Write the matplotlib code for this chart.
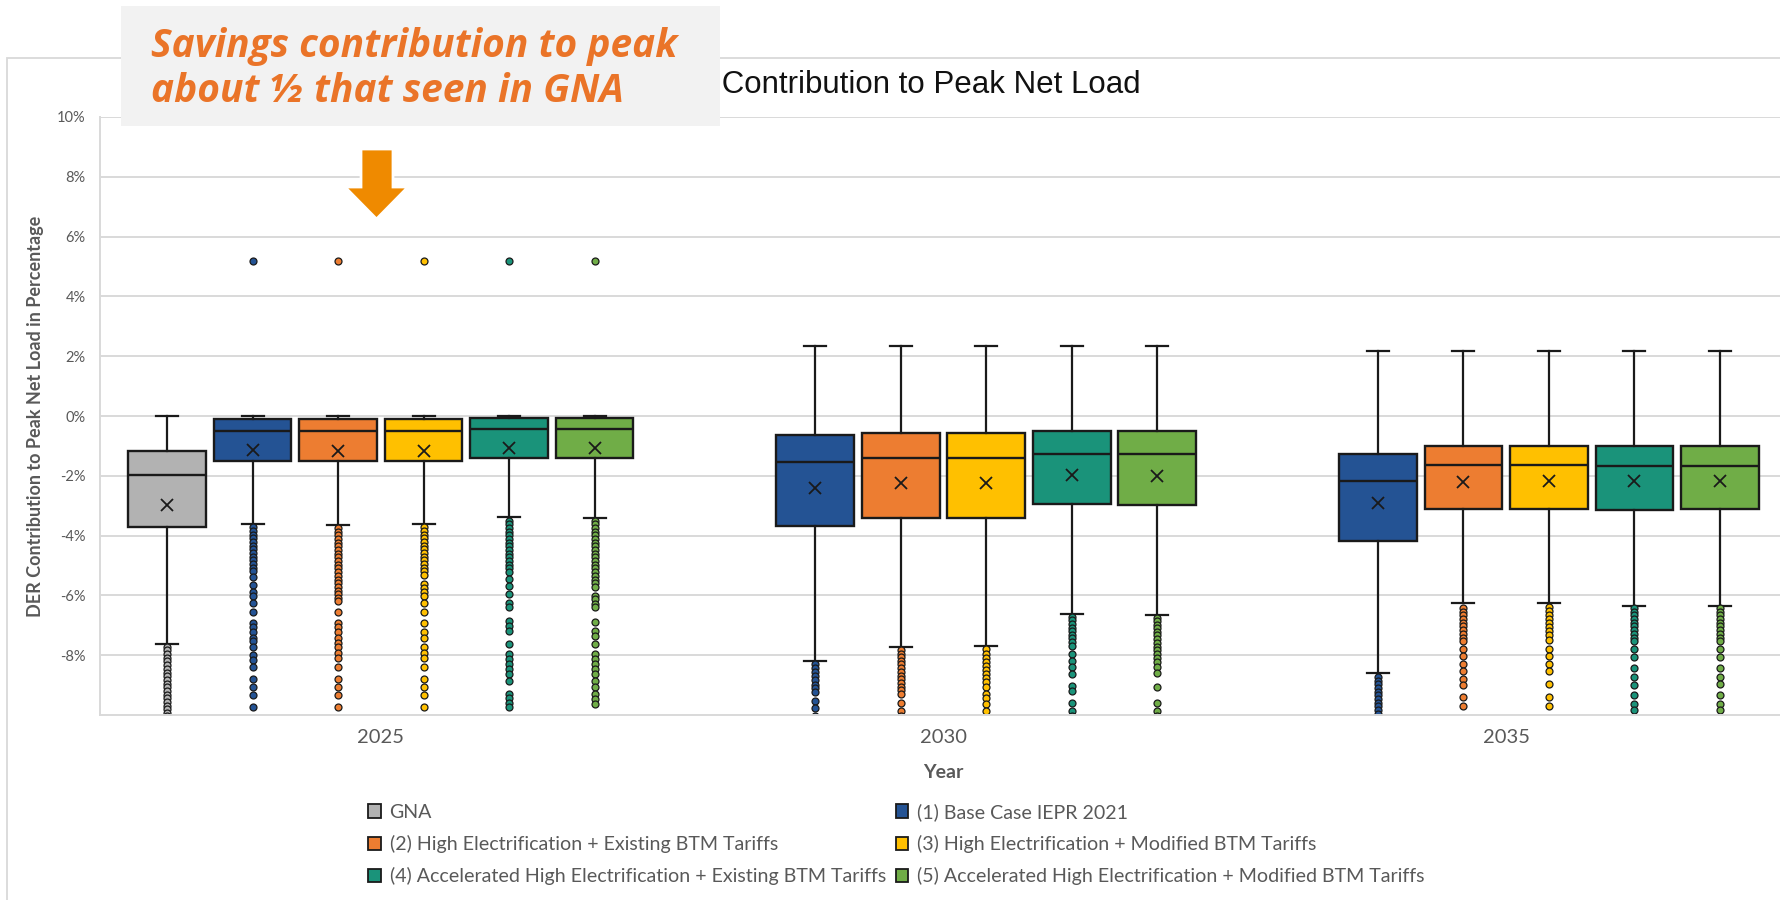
import matplotlib
matplotlib.use("Agg")
import matplotlib.pyplot as plt
import matplotlib.ticker as mticker
from matplotlib.patches import Patch, Rectangle, Polygon

plt.rcParams["font.family"] = ["Lato", "DejaVu Sans"]
plt.rcParams["axes.unicode_minus"] = False

# %% Data (values in percent)

YEARS = ["2025", "2030", "2035"]

SCENARIOS = [
    "GNA",
    "(1) Base Case IEPR 2021",
    "(2) High Electrification + Existing BTM Tariffs",
    "(3) High Electrification + Modified BTM Tariffs",
    "(4) Accelerated High Electrification + Existing BTM Tariffs",
    "(5) Accelerated High Electrification + Modified BTM Tariffs",
]

COLORS = ["#B2B2B2", "#245394", "#ED7D31", "#FFC000", "#1A937A", "#70AD47"]

# one row per scenario, one column per year (None = no data for that year)
WHISHI = [
    [0.0, None, None],
    [0.0, 2.33, 2.16],
    [0.0, 2.33, 2.16],
    [0.0, 2.33, 2.16],
    [0.0, 2.33, 2.16],
    [0.0, 2.33, 2.16],
]
Q3 = [
    [-1.16, None, None],
    [-0.11, -0.63, -1.27],
    [-0.11, -0.58, -0.99],
    [-0.11, -0.58, -0.99],
    [-0.08, -0.51, -0.99],
    [-0.08, -0.51, -0.99],
]
MEDIAN = [
    [-1.97, None, None],
    [-0.50, -1.55, -2.16],
    [-0.51, -1.41, -1.63],
    [-0.51, -1.41, -1.64],
    [-0.45, -1.27, -1.66],
    [-0.45, -1.27, -1.66],
]
MEAN = [
    [-2.98, None, None],
    [-1.13, -2.42, -2.92],
    [-1.16, -2.23, -2.20],
    [-1.16, -2.23, -2.19],
    [-1.06, -1.97, -2.19],
    [-1.06, -1.99, -2.19],
]
Q1 = [
    [-3.72, None, None],
    [-1.49, -3.67, -4.19],
    [-1.51, -3.41, -3.12],
    [-1.49, -3.42, -3.12],
    [-1.41, -2.94, -3.14],
    [-1.41, -2.98, -3.12],
]
WHISLO = [
    [-7.62, None, None],
    [-3.62, -8.21, -8.59],
    [-3.65, -7.73, -6.27],
    [-3.62, -7.70, -6.25],
    [-3.39, -6.62, -6.34],
    [-3.41, -6.65, -6.34],
]

FLIERS_2025 = [
    [-7.72, -7.84, -7.97, -8.09, -8.21, -8.34, -8.46, -8.58, -8.70, -8.83,
     -8.95, -9.07, -9.20, -9.32, -9.44, -9.57, -9.69, -9.81, -9.93, -10.05],
    [5.2, -3.72, -3.85, -3.97, -4.09, -4.21, -4.34, -4.46, -4.58, -4.71,
     -4.83, -4.95, -5.08, -5.20, -5.40, -5.65, -5.90, -6.01, -6.24, -6.54,
     -6.91, -7.07, -7.24, -7.41, -7.52, -7.71, -8.00, -8.17, -8.39, -8.81,
     -9.08, -9.33, -9.72],
    [5.2, -3.75, -3.87, -3.99, -4.12, -4.24, -4.36, -4.48, -4.61, -4.73,
     -4.85, -4.98, -5.10, -5.22, -5.34, -5.47, -5.59, -5.71, -5.84, -5.96,
     -6.08, -6.20, -6.54, -6.91, -7.07, -7.24, -7.41, -7.58, -7.74, -7.91,
     -8.08, -8.39, -8.81, -9.08, -9.33, -9.72],
    [5.2, -3.72, -3.85, -3.97, -4.09, -4.21, -4.34, -4.46, -4.58, -4.71,
     -4.83, -4.95, -5.08, -5.20, -5.32, -5.62, -5.75, -5.89, -6.02, -6.24,
     -6.54, -6.91, -7.24, -7.41, -7.74, -7.91, -8.08, -8.39, -8.81, -9.08,
     -9.33, -9.72],
    [5.2, -3.50, -3.62, -3.75, -3.87, -3.99, -4.12, -4.24, -4.36, -4.48,
     -4.61, -4.73, -4.85, -4.98, -5.10, -5.22, -5.45, -5.68, -5.94, -6.24,
     -6.40, -6.85, -7.02, -7.19, -7.63, -7.97, -8.14, -8.30, -8.47, -8.64,
     -8.86, -9.31, -9.44, -9.59, -9.72],
    [5.2, -3.50, -3.62, -3.75, -3.87, -3.99, -4.12, -4.24, -4.36, -4.48,
     -4.61, -4.73, -4.85, -4.98, -5.10, -5.22, -5.34, -5.47, -5.59, -5.71,
     -6.01, -6.13, -6.29, -6.40, -6.88, -7.19, -7.35, -7.63, -7.97, -8.14,
     -8.30, -8.47, -8.64, -8.86, -9.08, -9.31, -9.48, -9.64],
]

FLIERS_2030 = [
    [],
    [-8.30, -8.44, -8.57, -8.70, -8.84, -8.98, -9.11, -9.24, -9.53, -9.78,
     -10.03],
    [-7.82, -7.95, -8.07, -8.19, -8.31, -8.44, -8.56, -8.68, -8.81, -8.93,
     -9.05, -9.17, -9.31, -9.59, -9.87, -10.03],
    [-7.80, -7.97, -8.10, -8.24, -8.37, -8.50, -8.64, -8.77, -8.90, -9.08,
     -9.29, -9.42, -9.64, -9.87],
    [-6.71, -6.83, -6.95, -7.08, -7.20, -7.32, -7.44, -7.57, -7.69, -7.97,
     -8.19, -8.41, -8.64, -9.03, -9.20, -9.59, -9.87, -10.03],
    [-6.74, -6.85, -6.98, -7.10, -7.22, -7.34, -7.47, -7.59, -7.71, -7.83,
     -7.97, -8.10, -8.24, -8.41, -8.58, -9.05, -9.59, -9.87, -10.03],
]

FLIERS_2035 = [
    [],
    [-8.73, -8.85, -8.97, -9.09, -9.22, -9.34, -9.46, -9.59, -9.71, -9.83,
     -9.98],
    [-6.43, -6.55, -6.67, -6.79, -6.92, -7.04, -7.16, -7.29, -7.41, -7.52,
     -7.79, -8.03, -8.31, -8.54, -8.80, -8.99, -9.40, -9.69],
    [-6.38, -6.52, -6.65, -6.78, -6.92, -7.05, -7.19, -7.32, -7.48, -7.79,
     -8.03, -8.31, -8.54, -8.96, -9.40, -9.69],
    [-6.43, -6.55, -6.67, -6.79, -6.92, -7.04, -7.16, -7.29, -7.41, -7.54,
     -7.79, -8.07, -8.43, -8.74, -8.99, -9.33, -9.62, -9.83],
    [-6.43, -6.55, -6.67, -6.79, -6.92, -7.04, -7.16, -7.29, -7.41, -7.54,
     -7.79, -8.07, -8.43, -8.74, -8.96, -9.33, -9.62, -9.83],
]

FLIERS = [FLIERS_2025, FLIERS_2030, FLIERS_2035]

# %% Style

W, H = 1780, 900
TEXT_GREY = "#595959"
GRID_GREY = "#D9D9D9"
EDGE = "#1A1A1A"

SLOT = 0.152      # spacing between scenarios inside one year
BOX_W = 0.138
CAP_W = 0.039


def fx(px):
    return px / W


def fy(py):
    return 1 - py / H


fig = plt.figure(figsize=(W / 100, H / 100), dpi=100)

# outer chart frame
fig.add_artist(Rectangle((fx(7), -0.2), 2, fy(58) + 0.2, transform=fig.transFigure,
                         facecolor="none", edgecolor=GRID_GREY, linewidth=1.3))

AX_LEFT, AX_W = 99.5, 1688
ax = fig.add_axes([fx(AX_LEFT), fy(715), AX_W / W, (715 - 117) / H])
ax.set_xlim(-0.5, 2.5)
ax.set_ylim(-10, 10)

for j, color in enumerate(COLORS):
    stats, pos = [], []
    for i, year in enumerate(YEARS):
        if MEDIAN[j][i] is None:
            continue
        stats.append(dict(
            med=MEDIAN[j][i], q1=Q1[j][i], q3=Q3[j][i],
            whislo=WHISLO[j][i], whishi=WHISHI[j][i],
            mean=MEAN[j][i], fliers=FLIERS[i][j], label=year,
        ))
        pos.append(i + (j - 2.5) * SLOT)
    ax.bxp(
        stats,
        positions=pos,
        widths=BOX_W,
        capwidths=CAP_W,
        patch_artist=True,
        showmeans=True,
        manage_ticks=False,
        boxprops=dict(facecolor=color, edgecolor=EDGE, linewidth=1.7),
        medianprops=dict(color=EDGE, linewidth=1.7),
        whiskerprops=dict(color=EDGE, linewidth=1.6),
        capprops=dict(color=EDGE, linewidth=1.6),
        meanprops=dict(marker="x", markeredgecolor=EDGE, markersize=9,
                       markeredgewidth=1.3),
        flierprops=dict(marker="o", markerfacecolor=color, markeredgecolor=EDGE,
                        markersize=5, markeredgewidth=0.9),
    )

ax.set_axisbelow(True)
ax.set_yticks(range(-8, 11, 2))
ax.yaxis.set_major_formatter(mticker.PercentFormatter(decimals=0))
ax.grid(axis="y", color=GRID_GREY, linewidth=1.4)
ax.set_xticks(range(len(YEARS)), labels=YEARS)
ax.tick_params(length=0, colors=TEXT_GREY)
ax.tick_params(axis="y", labelsize=10.5, pad=10)
ax.tick_params(axis="x", labelsize=14.5, pad=10)
ax.spines[["top", "right"]].set_visible(False)
ax.spines[["left", "bottom"]].set_color(GRID_GREY)
ax.spines[["left", "bottom"]].set_linewidth(1.4)

ax.set_ylabel("DER Contribution to Peak Net Load in Percentage", fontsize=13,
              fontweight="bold", color=TEXT_GREY)
ax.yaxis.set_label_coords((44 - AX_LEFT) / AX_W, 0.5)
fig.text(fx(943), fy(772), "Year", ha="center", va="center", fontsize=14,
         fontweight="bold", color=TEXT_GREY)

fig.text(fx(1141), fy(85), "DER Contribution to Peak Net Load", ha="right",
         va="center", fontsize=22.5, family="Liberation Sans", color="#111111")

# legend, two columns filled row by row
order = [0, 2, 4, 1, 3, 5]
handles = [Patch(facecolor=COLORS[k], edgecolor=EDGE, linewidth=1.3) for k in order]
fig.legend(handles, [SCENARIOS[k] for k in order], ncol=2, loc="upper left",
           bbox_to_anchor=(fx(368), fy(803)), frameon=False, fontsize=14.1,
           labelcolor=TEXT_GREY, handlelength=0.65, handleheight=0.65,
           handletextpad=0.45, columnspacing=0.5, labelspacing=0.72,
           borderpad=0, borderaxespad=0)

# callout
fig.add_artist(Rectangle((fx(121), fy(126)), (720 - 121) / W, (126 - 6) / H,
                         transform=fig.transFigure, facecolor="#F2F2F2",
                         edgecolor="none", zorder=5))
for line, y in [("Savings contribution to peak", 57), ("about ½ that seen in GNA", 102)]:
    fig.text(fx(151), fy(y), line, ha="left", va="baseline", fontsize=28,
             family="Open Sans", fontweight="bold", fontstyle="italic",
             color="#EA7428", zorder=6)

arrow = [(361, 149), (393, 149), (393, 187), (408, 187), (376.5, 219),
         (345, 187), (361, 187)]
fig.add_artist(Polygon([(fx(x), fy(y)) for x, y in arrow], closed=True,
                       transform=fig.transFigure, facecolor="#EF8A00",
                       edgecolor="white", linewidth=2, zorder=6))

fig.savefig("out.png", dpi=100)
